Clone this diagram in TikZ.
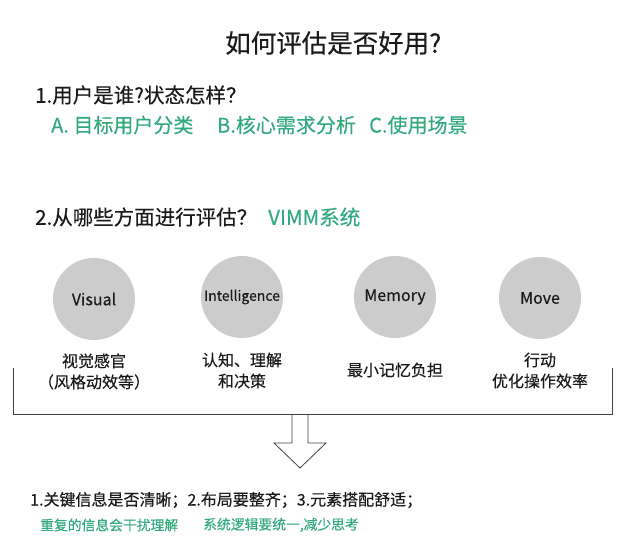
\documentclass[tikz,border=0pt]{standalone}
\usepackage{fontspec}
\setmainfont{Noto Sans CJK SC}[FakeBold=0.3]
\usepackage{xcolor}
\usetikzlibrary{positioning}
\definecolor{vgreen}{HTML}{33A97E}
\definecolor{vgray}{HTML}{CCCCCC}
\definecolor{vtext}{HTML}{1A1A1A}

\begin{document}
\begin{tikzpicture}[
  x=1pt, y=-1pt,
  every node/.style={text=vtext},
  titletext/.style={anchor=west, inner sep=0pt, font=\fontsize{25.5}{28}\selectfont},
  heading/.style={anchor=west, inner sep=0pt, font=\fontsize{20.5}{24}\selectfont},
  greenline/.style={anchor=west, inner sep=0pt, text=vgreen, font=\fontsize{20}{24}\selectfont},
  vimm/.style={circle, fill=vgray, draw=none, minimum size=82pt, inner sep=0pt, font=\fontsize{16}{18}\selectfont},
  caption/.style={align=center, inner sep=0pt, font=\fontsize{16}{21}\selectfont},
  note/.style={anchor=west, inner sep=0pt, font=\fontsize{16}{19}\selectfont},
  greennote/.style={anchor=west, inner sep=0pt, text=vgreen, font=\fontsize{13.8}{16}\selectfont},
  frame/.style={draw=black!75, line width=0.8pt},
]
\useasboundingbox (0,0) rectangle (627,551);

% title and question 1
\node[titletext] (title) at (225,43) {如何评估是否好用?};
\node[heading] (q1) at (35,95) {1.用户是谁?状态怎样？};
\node[greenline] (qa) at (51,125) {A. 目标用户分类};
\node[greenline] (qb) at (217,125) {B.核心需求分析};
\node[greenline] (qc) at (369,125) {C.使用场景};

% question 2
\node[heading] (q2) at (35,217) {2.从哪些方面进行评估？};
\node[greenline, font=\fontsize{20.5}{24}\selectfont] (vimmsys) at (268,217) {VIMM系统};

% the four aspects
\node[vimm] (visual) at (94,299) {Visual};
\node[vimm, font=\fontsize{14}{16}\selectfont] (intel) at (242,297) {Intelligence};
\node[vimm] (memory) at (395,297) {Memory};
\node[vimm] (move) at (540,298) {Move};

\node[caption] (visualcap) at (94,371.5) {视觉感官\\（风格动效等）};
\node[caption] (intelcap) at (242,370.5) {认知、理解\\和决策};
\node[caption] (memorycap) at (395,370) {最小记忆负担};
\node[caption] (movecap) at (540,370.5) {行动\\优化操作效率};

% bracket under the aspects
\coordinate (bl) at (13,368);
\coordinate (br) at (612,368);
\draw[frame] (bl) |- (br |- 0,414) -- (br);

% hollow down arrow
\draw[frame] (292,414) -- (292,443) -- (274,443) -- (300,468) -- (326,443) -- (308,443) -- (308,414);

% conclusions
\node[note] (sum) at (30,500) {1.关键信息是否清晰；2.布局要整齐；3.元素搭配舒适；};
\node[greennote] (suma) at (40,525) {重复的信息会干扰理解};
\node[greennote] (sumb) at (203,525) {系统逻辑要统一,减少思考};
\end{tikzpicture}
\end{document}
